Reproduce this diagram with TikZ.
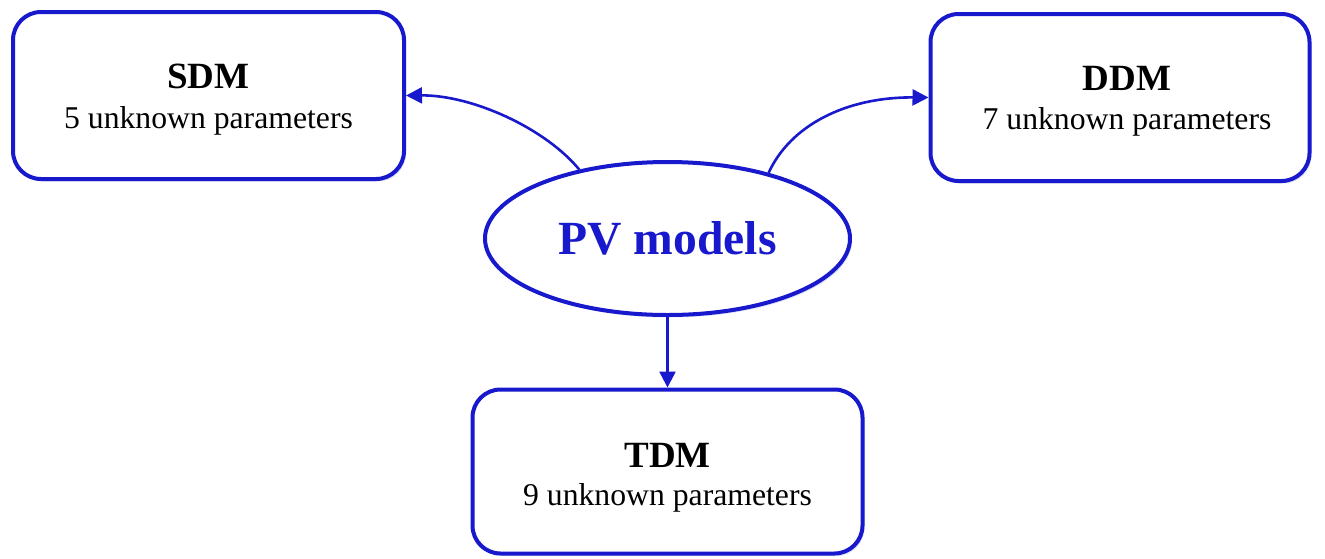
\documentclass[tikz,border=0pt]{standalone}
\usepackage{fontspec}
\setmainfont{Liberation Serif}
\usetikzlibrary{arrows.meta,shapes.geometric,shadows}

\definecolor{pvblue}{RGB}{24,24,204}
\definecolor{pvshade}{RGB}{150,170,230}

\tikzset{
  modelbox/.style={draw=pvblue, line width=4pt, rounded corners=28pt,
    fill=white, inner sep=0pt,
    drop shadow={shadow xshift=2pt, shadow yshift=-2.5pt, fill=pvshade, opacity=0.35}},
  hub/.style={ellipse, draw=pvblue, line width=4pt, fill=white, inner sep=0pt,
    minimum width=365pt, minimum height=153pt,
    drop shadow={shadow xshift=2pt, shadow yshift=-2.5pt, fill=pvshade, opacity=0.35}},
  title/.style={anchor=base, inner sep=0pt, font=\fontsize{37}{44}\selectfont\bfseries},
  detail/.style={anchor=base, inner sep=0pt, font=\fontsize{31.7}{38}\selectfont},
  hubtext/.style={anchor=base, inner sep=0pt, text=pvblue,
    font=\fontsize{47.6}{56}\selectfont\bfseries},
  link/.style={draw=pvblue, line width=2.6pt,
    -{Triangle[length=16pt, width=16pt]}}
}

\begin{document}
\begin{tikzpicture}[x=1pt, y=-1pt]
  \useasboundingbox (0,0) rectangle (1325,558);

  % the three model boxes
  \node[modelbox, minimum width=391pt, minimum height=167pt] (sdm) at (208.5,95.5) {};
  \node[modelbox, minimum width=379pt, minimum height=167pt] (ddm) at (1120,97.5) {};
  \node[modelbox, minimum width=390pt, minimum height=164pt] (tdm) at (667.5,471.5) {};

  % central ellipse
  \node[hub] (pv) at (667.5,238.5) {};

  % texts
  \node[title] (sdmt) at (208.5,88) {SDM};
  \node[detail] (sdmd) at (208.5,128) {5 unknown parameters};
  \node[title] (ddmt) at (1127,90) {DDM};
  \node[detail] (ddmd) at (1127,129) {7 unknown parameters};
  \node[title] (tdmt) at (667.5,467) {TDM};
  \node[detail] (tdmd) at (667.5,505) {9 unknown parameters};
  \node[hubtext] (pvt) at (667.5,254) {PV models};

  % connectors
  \draw[link] (pv.142) .. controls (545,128) and (472,95) .. (sdm.east);
  \draw[link] (pv.33) .. controls (790,126) and (845,97) .. (ddm.west);
  \draw[link] (pv.south) -- (tdm.north);
\end{tikzpicture}
\end{document}
